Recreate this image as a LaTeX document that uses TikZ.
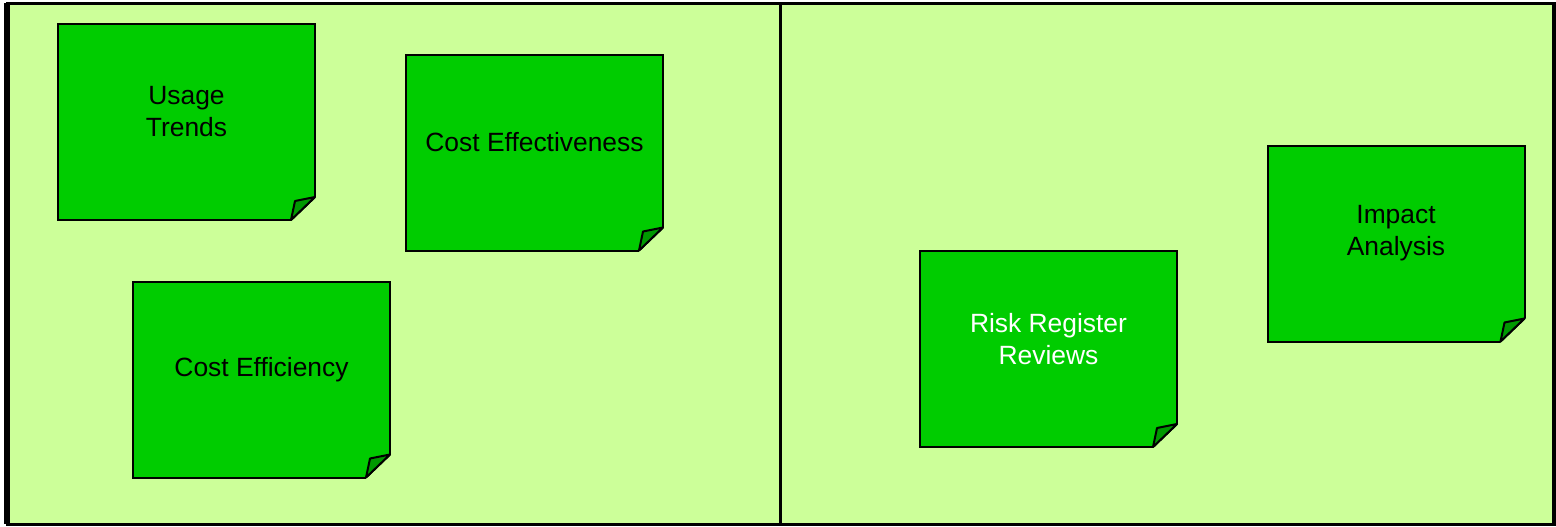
\documentclass[tikz,border=0pt]{standalone}
\usepackage{fontspec}
\setmainfont{Liberation Sans}
\definecolor{boardgreen}{HTML}{CCFF99}
\definecolor{notegreen}{HTML}{00CC00}
\definecolor{foldgreen}{HTML}{009900}
\begin{document}
\begin{tikzpicture}[x=0.5pt, y=-0.5pt, font=\fontsize{13.2}{16}\selectfont]
    % two boards of sticky notes
    \tikzset{frameline/.style={line width=1.5pt}, note/.style={draw, line width=1pt, fill=notegreen, outer sep=0pt, minimum width=128.5pt, minimum height=98pt}, notetext/.style={align=center}, whitetext/.style={align=center, text=white}, fold/.style={draw, line width=1pt, fill=foldgreen, line join=round}}
    \useasboundingbox (0,0) rectangle (1556,526);
    \fill[white] (0,0) rectangle (1556,526);
    \fill[boardgreen] (7,3) rectangle (1554,524);
    \draw[frameline] (7,3) rectangle (1554,524);
    \draw[line width=3pt] (7,3) -- (7,524);
    \draw[line width=2pt] (1554,3) -- (1554,524);
    \draw[frameline] (780,3) -- (780,524);
    % left board
    \node[note] (usage) at (186.5,122) {};
    \node[notetext] (usage-txt) at ([yshift=5pt]usage.center) {Usage\\Trends};
    \node[note] (effect) at (534.5,152.5) {};
    \node[notetext] (effect-txt) at ([yshift=5pt]effect.center) {Cost Effectiveness};
    \node[note] (effic) at (261.5,379.5) {};
    \node[notetext] (effic-txt) at ([yshift=5pt]effic.center) {Cost Efficiency};
    % right board
    \node[note] (risk) at (1048.5,349) {};
    \node[whitetext] (risk-txt) at ([yshift=5pt]risk.center) {Risk Register\\Reviews};
    \node[note] (impact) at (1396,243.5) {};
    \node[notetext] (impact-txt) at ([yshift=5pt]impact.center) {Impact\\Analysis};
    % curled corners
    \foreach \n in {usage,effect,effic,risk,impact} {
        \fill[boardgreen] ([xshift=-12pt]\n.south east) -- ([xshift=-12pt,yshift=-1pt]\n.south east) -- ([xshift=1pt,yshift=-1pt]\n.south east) -- ([xshift=1pt,yshift=11.5pt]\n.south east) -- ([yshift=11.5pt]\n.south east) -- cycle;
        \draw[line width=1pt] ([xshift=-12pt]\n.south east) -- ([yshift=11.5pt]\n.south east);
        \draw[fold] ([xshift=-12pt]\n.south east) -- ([xshift=-10pt,yshift=9.5pt]\n.south east) -- ([yshift=11.5pt]\n.south east) -- cycle;
    }
\end{tikzpicture}
\end{document}
